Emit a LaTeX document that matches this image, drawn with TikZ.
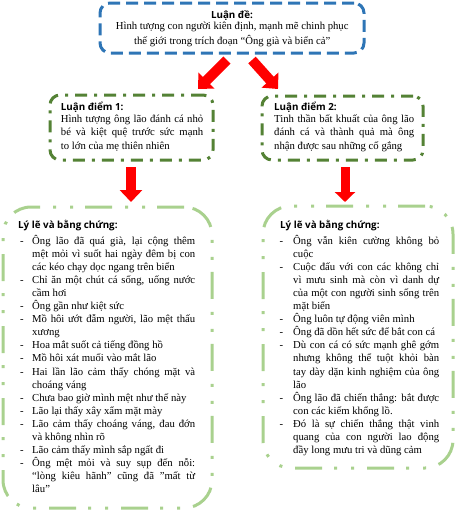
\documentclass[tikz,border=0pt]{standalone}
\usepackage{fontspec}
\setmainfont{Liberation Serif}
\newfontfamily\headfont{Open Sans}
\usetikzlibrary{arrows.meta}
\definecolor{bluec}{HTML}{2E75B6}
\definecolor{dgreen}{HTML}{548235}
\definecolor{lgreen}{HTML}{A9D18E}
\newlength\dw
\newlength\lw
\newcommand\fj[1]{\hbox{\hbox to\dw{-\hss}\hbox to\lw{#1}}}
\newcommand\fn[1]{\hbox{\hbox to\dw{-\hss}#1}}
\newcommand\cj[1]{\hbox{\hskip\dw\hbox to\lw{#1}}}
\newcommand\cn[1]{\hbox{\hskip\dw #1}}
\newcommand\cc[1]{\hbox to\lw{\hss #1\hss}}
\begin{document}
\begin{tikzpicture}[x=1pt,y=-1pt,
  topbox/.style={draw=bluec, line width=3pt, dash pattern=on 12pt off 6pt, rounded corners=10pt, inner sep=0pt},
  ptbox/.style={draw=dgreen, line width=3pt, dash pattern=on 12pt off 7pt on 3pt off 7pt, rounded corners=10pt, inner sep=0pt},
  evbox/.style={draw=lgreen, line width=3pt, dash pattern=on 27pt off 12pt on 3pt off 14pt on 3pt off 13pt, rounded corners=28pt, inner sep=0pt},
  headtxt/.style={font=\headfont\bfseries\fontsize{9.8}{12}\selectfont, anchor=base west, inner sep=0pt},
  bodytxt/.style={font=\fontsize{10.7}{13.05}\selectfont, anchor=base west, inner sep=0pt},
  redarr/.style={draw=red, line width=10pt, -{Triangle[width=22pt,length=12pt]}}
]
\useasboundingbox (0,0) rectangle (457,512);

% boxes
\node[topbox, minimum width=264pt, minimum height=50pt] (top) at (232,28) {};
\node[ptbox, minimum width=163pt, minimum height=65pt] (p1) at (131.5,127.5) {};
\node[ptbox, minimum width=161pt, minimum height=64pt] (p2) at (342.5,128) {};
\node[evbox, minimum width=209pt, minimum height=301pt] (e1) at (107.5,357.5) {};
\node[evbox, minimum width=190pt, minimum height=262pt] (e2) at (358,337) {};

% top text
\node[headtxt, anchor=base] (toph) at (232,18.5) {Luận đề:};
\node[bodytxt] (topt) at (100,29.7) {\vtop{\lw=264pt\baselineskip=14.4pt\lineskiplimit=-20pt
  \cc{Hình tượng con người kiên định, mạnh mẽ chinh phục}
  \cc{thế giới trong trích đoạn “Ông già và biển cả”}}};

% point 1
\node[headtxt] (p1h) at (60.7,110.5) {Luận điểm 1:};
\node[bodytxt] (p1t) at (60.7,122.5) {\vtop{\dw=0pt\lw=142.3pt\baselineskip=13.3pt\lineskiplimit=-20pt
  \cj{Hình tượng ông lão đánh cá nhỏ}
  \cj{bé và kiệt quệ trước sức mạnh}
  \cn{to lớn của mẹ thiên nhiên}}};

% point 2
\node[headtxt] (p2h) at (274,110.5) {Luận điểm 2:};
\node[bodytxt] (p2t) at (274,122.5) {\vtop{\dw=0pt\lw=140pt\baselineskip=13.3pt\lineskiplimit=-20pt
  \cj{Tinh thần bất khuất của ông lão}
  \cj{đánh cá và thành quả mà ông}
  \cn{nhận được sau những cố gắng}}};

% evidence 1
\node[headtxt] (e1h) at (18,228.5) {Lý lẽ và bằng chứng:};
\node[bodytxt] (e1t) at (20,244.5) {\vtop{\dw=12pt\lw=163pt\baselineskip=13.05pt\lineskiplimit=-20pt
  \fj{Ông lão đã quá già, lại cộng thêm}
  \cj{mệt mỏi vì suốt hai ngày đêm bị con}
  \cn{các kéo chạy dọc ngang trên biển}
  \fj{Chỉ ăn một chút cá sống, uống nước}
  \cn{cầm hơi}
  \fn{Ông gần như kiệt sức}
  \fj{Mồ hôi ướt đẫm người, lão mệt thấu}
  \cn{xương}
  \fn{Hoa mắt suốt cả tiếng đồng hồ}
  \fn{Mồ hôi xát muối vào mắt lão}
  \fj{Hai lần lão cảm thấy chóng mặt và}
  \cn{choáng váng}
  \fn{Chưa bao giờ mình mệt như thế này}
  \fn{Lão lại thấy xây xẩm mặt mày}
  \fj{Lão cảm thấy choáng váng, đau đớn}
  \cn{và không nhìn rõ}
  \fn{Lão cảm thấy mình sắp ngất đi}
  \fj{Ông mệt mỏi và suy sụp đến nỗi:}
  \cj{“lòng kiêu hãnh” cũng đã ”mất từ}
  \cn{lâu”}}};

% evidence 2
\node[headtxt] (e2h) at (280,228.5) {Lý lẽ và bằng chứng:};
\node[bodytxt] (e2t) at (279.5,244.5) {\vtop{\dw=13.5pt\lw=146pt\baselineskip=13.05pt\lineskiplimit=-20pt
  \fj{Ông vẫn kiên cường không bỏ}
  \cn{cuộc}
  \fj{Cuộc đấu với con các không chỉ}
  \cj{vì mưu sinh mà còn vì danh dự}
  \cj{của một con người sinh sống trên}
  \cn{mặt biển}
  \fn{Ông luôn tự động viên mình}
  \fn{Ông đã dồn hết sức để bắt con cá}
  \fj{Dù con cá có sức mạnh ghê gớm}
  \cj{nhưng không thể tuột khỏi bàn}
  \cj{tay dày dặn kinh nghiệm của ông}
  \cn{lão}
  \fj{Ông lão đã chiến thắng: bắt được}
  \cn{con các kiếm khổng lồ.}
  \fj{Đó là sự chiến thắng thật vinh}
  \cj{quang của con người lao động}
  \cn{đầy long mưu tri và dũng cảm}}};

% arrows
\coordinate (a1s) at (227,60);
\coordinate (a1e) at (198,89);
\coordinate (a2s) at (252,60);
\coordinate (a2e) at (278,89);
\coordinate (a3s) at (131,167);
\coordinate (a3e) at (131,202);
\coordinate (a4s) at (345,167);
\coordinate (a4e) at (345,202);
\draw[redarr] (a1s) -- (a1e);
\draw[redarr] (a2s) -- (a2e);
\draw[redarr] (a3s) -- (a3e);
\draw[redarr, line width=9pt, -{Triangle[width=20pt,length=10pt]}] (a4s) -- (a4e);
\end{tikzpicture}
\end{document}
